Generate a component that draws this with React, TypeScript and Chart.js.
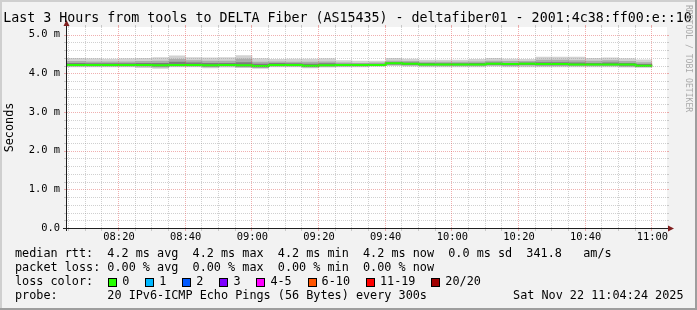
import React, { useEffect, useRef } from "react";
import { Chart, registerables } from "chart.js";
Chart.register(...registerables);

// ---------- data ----------
const binStart = [
  "08:00", "08:05", "08:10", "08:15", "08:20", "08:25", "08:30", "08:35", "08:40", "08:45",
  "08:50", "08:55", "09:00", "09:05", "09:10", "09:15", "09:20", "09:25", "09:30", "09:35",
  "09:40", "09:45", "09:50", "09:55", "10:00", "10:05", "10:10", "10:15", "10:20", "10:25",
  "10:30", "10:35", "10:40", "10:45", "10:50", "10:55",
];
const lastBinEnd = "11:00";
const xRange = ["08:04:24", "11:04:24"];

// smoke percentiles (ms)
const pingMax = [4.40, 4.40, 4.39, 4.38, 4.39, 4.40, 4.42, 4.46, 4.42, 4.41, 4.42, 4.47, 4.39, 4.37, 4.38, 4.38, 4.39, 4.34, 4.33, 4.33, 4.40, 4.38, 4.35, 4.35, 4.35, 4.37, 4.40, 4.38, 4.37, 4.43, 4.43, 4.43, 4.40, 4.41, 4.39, 4.36];
const pingHi2 = [4.32, 4.32, 4.31, 4.31, 4.31, 4.32, 4.33, 4.37, 4.34, 4.33, 4.33, 4.38, 4.30, 4.31, 4.30, 4.30, 4.31, 4.28, 4.27, 4.28, 4.33, 4.32, 4.30, 4.30, 4.30, 4.31, 4.33, 4.32, 4.32, 4.35, 4.35, 4.34, 4.33, 4.34, 4.32, 4.29];
const pingHi3 = [4.27, 4.27, 4.26, 4.26, 4.26, 4.27, 4.27, 4.30, 4.28, 4.27, 4.27, 4.29, 4.25, 4.27, 4.26, 4.25, 4.26, 4.25, 4.25, 4.25, 4.29, 4.28, 4.27, 4.26, 4.26, 4.27, 4.28, 4.27, 4.28, 4.29, 4.29, 4.28, 4.27, 4.28, 4.27, 4.24];
const medianRtt = [4.22, 4.22, 4.22, 4.22, 4.22, 4.22, 4.21, 4.22, 4.22, 4.21, 4.22, 4.21, 4.19, 4.22, 4.22, 4.20, 4.21, 4.22, 4.22, 4.22, 4.26, 4.25, 4.23, 4.23, 4.23, 4.23, 4.25, 4.24, 4.25, 4.24, 4.24, 4.23, 4.23, 4.23, 4.23, 4.20];
const pingLo3 = [4.20, 4.20, 4.20, 4.20, 4.20, 4.19, 4.18, 4.20, 4.20, 4.18, 4.20, 4.18, 4.16, 4.20, 4.20, 4.17, 4.19, 4.20, 4.20, 4.20, 4.23, 4.22, 4.21, 4.21, 4.21, 4.21, 4.22, 4.21, 4.22, 4.21, 4.21, 4.21, 4.21, 4.21, 4.20, 4.18];
const pingLo2 = [4.18, 4.18, 4.18, 4.18, 4.18, 4.17, 4.15, 4.18, 4.18, 4.16, 4.18, 4.16, 4.14, 4.18, 4.18, 4.15, 4.17, 4.18, 4.18, 4.19, 4.21, 4.20, 4.19, 4.19, 4.19, 4.19, 4.20, 4.19, 4.20, 4.19, 4.19, 4.19, 4.19, 4.19, 4.17, 4.16];
const pingMin = [4.16, 4.16, 4.16, 4.16, 4.16, 4.14, 4.12, 4.16, 4.16, 4.13, 4.15, 4.14, 4.12, 4.16, 4.16, 4.13, 4.15, 4.16, 4.16, 4.17, 4.19, 4.18, 4.16, 4.16, 4.16, 4.16, 4.18, 4.16, 4.16, 4.16, 4.16, 4.16, 4.16, 4.16, 4.15, 4.15];

const xTickLabels = ["08:20", "08:40", "09:00", "09:20", "09:40", "10:00", "10:20", "10:40", "11:00"];
const yTickValues = [0, 1, 2, 3, 4, 5];
const yTickLabels = ["0.0", "1.0 m", "2.0 m", "3.0 m", "4.0 m", "5.0 m"];
const yMax = 5.2;

const titleText = "Last 3 Hours from tools to DELTA Fiber (AS15435) - deltafiber01 - 2001:4c38:ff00:e::10";
const yAxisTitle = "Seconds";
const watermark = "RRDTOOL / TOBI OETIKER";
const legendRtt = "median rtt:  4.2 ms avg  4.2 ms max  4.2 ms min  4.2 ms now  0.0 ms sd  341.8   am/s";
const legendLoss = "packet loss: 0.00 % avg  0.00 % max  0.00 % min  0.00 % now";
const lossHeader = "loss color:  ";
const lossLabels = ["0", "1", "2", "3", "4-5", "6-10", "11-19", "20/20"];
const lossColors = ["#26ff00", "#00b8ff", "#0059ff", "#7e00ff", "#ff00ff", "#ff5500", "#ff0000", "#a10000"];
const probeLine = "probe:       20 IPv6-ICMP Echo Pings (56 Bytes) every 300s";
const dateText = "Sat Nov 22 11:04:24 2025";

// ---------- helpers ----------
const MONO = "'DejaVu Sans Mono', monospace";
const toMin = (s: string) => {
  const p = s.split(":").map(Number);
  return p[0] * 60 + p[1] + (p[2] || 0) / 60;
};
const series = (arr: number[]) =>
  binStart.map((t, i) => ({ x: toMin(t), y: arr[i] })).concat([{ x: toMin(lastBinEnd), y: arr[arr.length - 1] }]);

const rrdPlugin = {
  id: "rrd",
  beforeDraw(chart: any) {
    const { ctx, width, height, chartArea: a } = chart;
    ctx.save();
    ctx.fillStyle = "#f2f2f2";
    ctx.fillRect(0, 0, width, height);
    ctx.fillStyle = "#cfcfcf";
    ctx.fillRect(0, 0, width, 2);
    ctx.fillRect(0, 0, 2, height);
    ctx.fillStyle = "#9e9e9e";
    ctx.fillRect(0, height - 2, width, 2);
    ctx.fillRect(width - 2, 0, 2, height);
    ctx.fillStyle = "#ffffff";
    ctx.fillRect(a.left, a.top, a.right - a.left, a.bottom - a.top);
    ctx.restore();
  },
  afterDatasetsDraw(chart: any) {
    const { ctx, chartArea: a, scales } = chart;
    const xs = scales.x, ys = scales.y;
    const minor = "rgba(143,143,143,0.42)";
    const major = "rgba(222,79,79,0.45)";
    ctx.save();
    ctx.lineWidth = 1;
    // horizontal grid
    for (let i = 1; i <= 25; i++) {
      const v = i * 0.2;
      if (v > 5.0 + 1e-9) break;
      const isMajor = Math.abs(v - Math.round(v)) < 1e-6;
      const py = Math.round(ys.getPixelForValue(v)) + 0.5;
      ctx.strokeStyle = isMajor ? major : minor;
      ctx.setLineDash([1, 1]);
      ctx.beginPath();
      ctx.moveTo(a.left, py);
      ctx.lineTo(a.right, py);
      ctx.stroke();
      ctx.setLineDash([]);
      ctx.beginPath();
      ctx.moveTo(a.left - 3, py);
      ctx.lineTo(a.left, py);
      ctx.moveTo(a.right, py);
      ctx.lineTo(a.right + 2, py);
      ctx.stroke();
    }
    // vertical grid
    const start = Math.ceil(toMin(xRange[0]) / 5) * 5;
    for (let m = start; m <= toMin(xRange[1]); m += 5) {
      const isMajor = m % 20 === 0;
      const px = Math.round(xs.getPixelForValue(m)) - 0.5;
      ctx.strokeStyle = isMajor ? major : minor;
      ctx.setLineDash([1, 1]);
      ctx.beginPath();
      ctx.moveTo(px, a.top);
      ctx.lineTo(px, a.bottom);
      ctx.stroke();
      ctx.setLineDash([]);
      ctx.beginPath();
      ctx.moveTo(px, a.bottom);
      ctx.lineTo(px, a.bottom + 3);
      ctx.moveTo(px, a.top - 2);
      ctx.lineTo(px, a.top);
      ctx.stroke();
    }
    // axes
    ctx.strokeStyle = "#1f1f1f";
    ctx.beginPath();
    const ax = a.left - 0.5;
    const ay = a.bottom + 0.5;
    ctx.moveTo(a.left - 4, ay);
    ctx.lineTo(a.right + 4, ay);
    ctx.moveTo(ax, a.bottom + 3);
    ctx.lineTo(ax, a.top - 4);
    ctx.stroke();
    ctx.fillStyle = "#801f1f";
    ctx.beginPath();
    ctx.moveTo(a.right + 1, ay - 3);
    ctx.lineTo(a.right + 7, ay);
    ctx.lineTo(a.right + 1, ay + 3);
    ctx.closePath();
    ctx.fill();
    ctx.beginPath();
    ctx.moveTo(ax - 3, a.top - 1);
    ctx.lineTo(ax, a.top - 7);
    ctx.lineTo(ax + 3, a.top - 1);
    ctx.closePath();
    ctx.fill();
    ctx.restore();
  },
  afterDraw(chart: any) {
    const { ctx, chartArea: a } = chart;
    ctx.save();
    ctx.fillStyle = "#000";
    ctx.textBaseline = "middle";
    // title
    ctx.font = `13.3px ${MONO}`;
    ctx.textAlign = "center";
    ctx.fillText(titleText, 347.5, 19);
    // y title
    ctx.font = `11.8px ${MONO}`;
    ctx.save();
    ctx.translate(10, (a.top + a.bottom) / 2);
    ctx.rotate(-Math.PI / 2);
    ctx.fillText(yAxisTitle, 0, 0);
    ctx.restore();
    // watermark
    ctx.save();
    ctx.font = `8.1px ${MONO}`;
    ctx.fillStyle = "#aaaaaa";
    ctx.translate(688, 5);
    ctx.rotate(Math.PI / 2);
    ctx.textAlign = "left";
    ctx.fillText(watermark, 0, 0);
    ctx.restore();
    // legend
    ctx.font = `11.8px ${MONO}`;
    ctx.textAlign = "left";
    const x0 = 15;
    ctx.fillText(legendRtt, x0, 254);
    ctx.fillText(legendLoss, x0, 268);
    ctx.fillText(lossHeader, x0, 282);
    let cur = x0 + ctx.measureText(lossHeader).width;
    const cw = ctx.measureText("0").width;
    lossLabels.forEach((lab, i) => {
      const bx = Math.round(cur + 1);
      ctx.fillStyle = lossColors[i];
      ctx.fillRect(bx, 278, 9, 9);
      ctx.strokeStyle = "#000";
      ctx.lineWidth = 1;
      ctx.strokeRect(bx + 0.5, 278.5, 8, 8);
      ctx.fillStyle = "#000";
      const tx = cur + 15;
      ctx.fillText(lab, tx, 282);
      cur = tx + ctx.measureText(lab).width + 2.1 * cw;
    });
    ctx.fillText(probeLine, x0, 296);
    ctx.textAlign = "right";
    ctx.fillText(dateText, 683.5, 296);
    ctx.restore();
  },
};

export default function App() {
  const ref = useRef<HTMLCanvasElement | null>(null);
  useEffect(() => {
    document.body.style.margin = "0";
    const canvas = ref.current;
    if (!canvas) return;
    const band = (arr: number[], color: string, fill: any) => ({
      data: series(arr),
      stepped: true,
      borderWidth: 0,
      borderColor: "rgba(0,0,0,0)",
      backgroundColor: color,
      pointRadius: 0,
      fill,
    });
    const chart = new Chart(canvas, {
      type: "line",
      data: {
        datasets: [
          {
            data: series(medianRtt),
            stepped: true,
            borderColor: "#26ff00",
            borderWidth: 2,
            borderCapStyle: "butt",
            pointRadius: 0,
            fill: false,
          },
          band(pingHi3, "#7c7c7c", "+1"),
          band(pingLo3, "#7c7c7c", false),
          band(pingHi2, "#acacac", "+1"),
          band(pingLo2, "#acacac", false),
          band(pingMax, "#d2d2d2", "+1"),
          band(pingMin, "#d2d2d2", false),
        ],
      },
      options: {
        animation: false,
        responsive: false,
        devicePixelRatio: 1,
        layout: { padding: { top: 27, right: 30, left: 0, bottom: 0 } },
        plugins: { legend: { display: false }, tooltip: { enabled: false }, title: { display: false } },
        scales: {
          x: {
            type: "linear",
            min: toMin(xRange[0]),
            max: toMin(xRange[1]),
            grid: { display: false, drawTicks: false },
            border: { display: false },
            afterFit: (s: any) => {
              s.height = 82;
            },
            afterBuildTicks: (s: any) => {
              s.ticks = xTickLabels.map((l) => ({ value: toMin(l) }));
            },
            ticks: {
              padding: 3,
              maxRotation: 0,
              autoSkip: false,
              color: "#000",
              font: { family: MONO, size: 10.4 },
              callback: (v: any) => {
                const i = xTickLabels.findIndex((l) => Math.abs(toMin(l) - v) < 1e-6);
                return i >= 0 ? xTickLabels[i] : "";
              },
            },
          },
          y: {
            type: "linear",
            min: 0,
            max: yMax,
            grid: { display: false, drawTicks: false },
            border: { display: false },
            afterFit: (s: any) => {
              s.width = 67;
            },
            afterBuildTicks: (s: any) => {
              s.ticks = yTickValues.map((v) => ({ value: v }));
            },
            ticks: {
              padding: 7,
              autoSkip: false,
              color: "#000",
              font: { family: MONO, size: 10.4 },
              callback: (v: any) => {
                const i = yTickValues.indexOf(v);
                return i >= 0 ? yTickLabels[i] : "";
              },
            },
          },
        },
      },
      plugins: [rrdPlugin],
    } as any);
    return () => chart.destroy();
  }, []);
  return <canvas ref={ref} width={697} height={310} style={{ display: "block" }} />;
}
